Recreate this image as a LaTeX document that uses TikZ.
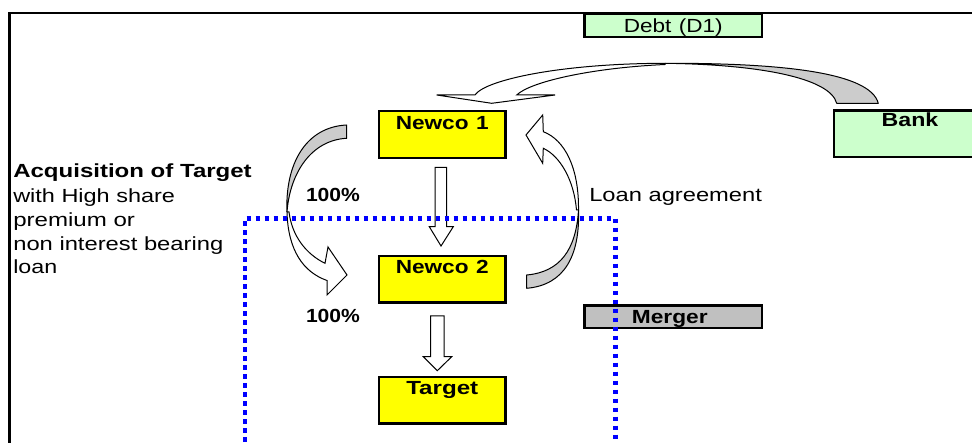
\documentclass[tikz,border=0pt]{standalone}
\usepackage{fontspec}
\setmainfont{Liberation Sans}
\definecolor{boxyellow}{HTML}{FFFF00}
\definecolor{boxgreen}{HTML}{CCFFCC}
\definecolor{mergegray}{HTML}{C0C0C0}
\definecolor{ribbon}{HTML}{CCCCCC}
\newcommand\fw[2]{\resizebox{#1pt}{\height}{#2}}
\tikzset{
  box/.style={draw=black, line width=2.5pt, inner sep=0pt, outer sep=0pt, align=center, anchor=north west},
  lbl/.style={inner sep=0pt, outer sep=0pt, anchor=base west},
  ribbonback/.style={fill=ribbon, draw=black, line width=1pt, line join=round},
  ribbonfront/.style={fill=white, draw=black, line width=1pt, line join=miter},
  blockarrow/.style={fill=white, draw=black, line width=1pt},
  zone/.style={draw=blue, line width=4.5pt, dash pattern=on 4.5pt off 4.5pt}
}
\begin{document}
\begin{tikzpicture}[x=1pt,y=-1pt]
\fontsize{19}{22}\selectfont
\useasboundingbox (0,0) rectangle (972,443);
\clip (0,0) rectangle (972,443);
% frame
\draw[line width=2.5pt] (9.7,460) -- (9.7,13) -- (990,13);
% boxes
\node[box, fill=boxgreen, text width=177.5pt, text height=18.1pt, text depth=4.7pt] (debt) at (584.5,14.2) {\fw{99}{Debt (D1)}};
\node[box, fill=boxgreen, text width=152pt, text height=16.2pt, text depth=30.3pt] (bank) at (834,110.5) {\fw{56.7}{\bfseries Bank}};
\node[box, fill=boxyellow, text width=126.5pt, text height=18.1pt, text depth=28.7pt] (n1) at (379,111.2) {\fw{93}{\bfseries Newco 1}};
\node[box, fill=boxyellow, text width=126.5pt, text height=17.7pt, text depth=28.8pt] (n2) at (379,256) {\fw{93}{\bfseries Newco 2}};
\node[box, fill=boxyellow, text width=126.5pt, text height=17.5pt, text depth=28.8pt] (tg) at (379,377.2) {\fw{72}{\bfseries Target}};
\node[box, fill=mergegray, text width=177.5pt, text height=17.8pt, text depth=4.7pt] (mg) at (584.5,305.5) {\hspace*{-7pt}\fw{75.7}{\bfseries Merger}};
% labels
\node[lbl] (acq) at (13.3,177.3) {\fw{238.4}{\bfseries Acquisition of Target}};
\node[lbl] (acq2) at (13.3,202.5) {\fw{161.7}{with High share}};
\node[lbl] (acq3) at (13.3,226.3) {\fw{121.7}{premium or}};
\node[lbl] (acq4) at (13.3,250.3) {\fw{210}{non interest bearing}};
\node[lbl] (acq5) at (13.3,274) {\fw{44}{loan}};
\node[lbl] (p1) at (306,201.7) {\fw{54}{\bfseries 100\%}};
\node[lbl] (p2) at (306,322.7) {\fw{54}{\bfseries 100\%}};
\node[lbl] (loan) at (589.3,201.7) {\fw{172.7}{Loan agreement}};
% block arrows
\draw[blockarrow] (435,167.3) -- (446.7,167.3) -- (446.7,226.7) -- (453.3,226.7) -- (441,246) -- (429.3,226.7) -- (435,226.7) -- cycle;
\draw[blockarrow] (430.7,316) -- (444,316) -- (444,356.7) -- (451.7,356.7) -- (437.3,370.7) -- (423.3,356.7) -- (430.7,356.7) -- cycle;
% left curved arrow (Newco 1 -> Newco 2)
\draw[ribbonback] (346.7,125) .. controls (305,127) and (285,165) .. (287,212)
   .. controls (290,172) and (312,140) .. (346.7,138.3) -- cycle;
\draw[ribbonfront] (287,212) .. controls (288,250) and (303,272) .. (327,280.5) -- (327,295) -- (347,275) -- (328,247) -- (325,263.3)
   .. controls (306,254) and (292,236) .. (289,212) -- cycle;
% right curved arrow (Newco 2 -> Newco 1)
\draw[ribbonback] (526.7,288.3) .. controls (565,285) and (580,255) .. (578.5,210)
   .. controls (576,250) and (560,272) .. (526.7,275) -- cycle;
\draw[ribbonfront] (578.5,210) .. controls (579,168) and (565,140) .. (543.3,131.7) -- (542.7,115) -- (526,135) -- (542.7,163.3) -- (543.3,148.3)
   .. controls (560,156) and (574,180) .. (576.5,210) -- cycle;
% top curved arrow (Bank -> Newco 1)
\draw[ribbonback] (878.3,103.3) .. controls (870,72) and (780,63) .. (665,63.3)
   .. controls (760,64.5) and (830,78) .. (836.7,103.3) -- cycle;
\draw[ribbonfront] (665,63.3) .. controls (560,63.5) and (485,80) .. (475,95) -- (436.7,95) -- (491.7,103.3) -- (555,95) -- (516.7,95)
   .. controls (530,82) and (590,68) .. (665,64.5) -- cycle;
% merger zone
\draw[zone] (245,460) -- (245,218.7) -- (615.7,218.7) -- (615.7,460);
\end{tikzpicture}
\end{document}
